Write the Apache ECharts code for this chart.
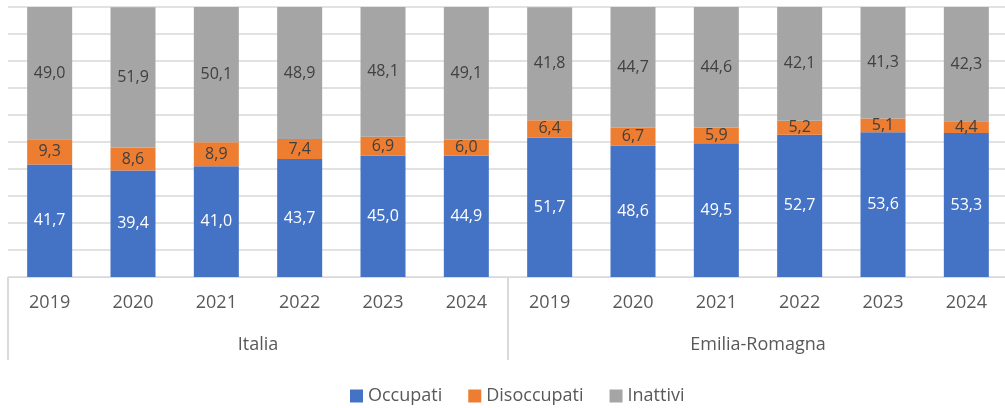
<!DOCTYPE html>
<html>
<head>
<meta charset="utf-8">
<script src="https://cdn.jsdelivr.net/npm/echarts@6/dist/echarts.min.js"></script>
<style>
  html, body { margin: 0; padding: 0; background: #fff; }
  #chart { width: 1005px; height: 408px; }
</style>
</head>
<body>
<div id="chart"></div>
<script>
// Years shown under each bar, and the two regions they belong to
const years = ['2019', '2020', '2021', '2022', '2023', '2024',
               '2019', '2020', '2021', '2022', '2023', '2024'];
const regions = ['Italia', 'Emilia-Romagna'];

// Shares of the population (%) per year, Italia first then Emilia-Romagna
const occupati    = [41.7, 39.4, 41.0, 43.7, 45.0, 44.9, 51.7, 48.6, 49.5, 52.7, 53.6, 53.3];
const disoccupati = [9.3, 8.6, 8.9, 7.4, 6.9, 6.0, 6.4, 6.7, 5.9, 5.2, 5.1, 4.4];
const inattivi    = [49.0, 51.9, 50.1, 48.9, 48.1, 49.1, 41.8, 44.7, 44.6, 42.1, 41.3, 42.3];

const FONT = '"Open Sans", "Noto Sans", sans-serif';
const TEXT = '#595959';
const GRID_LINE = '#D9D9D9';

const fmt = p => p.value.toFixed(1).replace('.', ',');

function barSeries(name, data, color, labelColor) {
  return {
    name: name,
    type: 'bar',
    stack: 'tot',
    xAxisIndex: 0,
    yAxisIndex: 0,
    barWidth: 45,
    data: data,
    itemStyle: { color: color },
    label: {
      show: true,
      position: 'inside',
      formatter: fmt,
      color: labelColor,
      fontFamily: FONT,
      fontSize: 16
    }
  };
}

const chart = echarts.init(document.getElementById('chart'), null, { renderer: 'canvas' });

// plot area runs slightly past the right edge of the canvas
const gridBox = { left: 8, width: 1000, top: 7, height: 270,
                  containLabel: false, outerBoundsMode: 'none' };

chart.setOption({
  animation: false,
  textStyle: { fontFamily: FONT },
  grid: [
    Object.assign({}, gridBox),
    Object.assign({}, gridBox)
  ],
  legend: {
    bottom: -2,
    left: 345,
    itemWidth: 13,
    itemHeight: 13,
    itemGap: 26,
    icon: 'rect',
    textStyle: { color: TEXT, fontSize: 18, fontFamily: FONT },
    data: ['Occupati', 'Disoccupati', 'Inattivi']
  },
  xAxis: [
    {
      type: 'category',
      gridIndex: 0,
      data: years,
      axisLine: { show: true, lineStyle: { color: GRID_LINE, width: 1 } },
      axisTick: { show: false },
      axisLabel: { color: TEXT, fontSize: 18, fontFamily: FONT, margin: 17, interval: 0 }
    },
    {
      type: 'category',
      gridIndex: 1,
      data: regions,
      position: 'bottom',
      axisLine: { show: false },
      // group separators below the year labels
      axisTick: { show: true, length: 83, interval: 0, alignWithLabel: false,
                  lineStyle: { color: GRID_LINE, width: 2 } },
      axisLabel: { color: TEXT, fontSize: 18, fontFamily: FONT, margin: 59, interval: 0 }
    }
  ],
  yAxis: [
    {
      type: 'value',
      gridIndex: 0,
      min: 0,
      max: 100,
      interval: 10,
      axisLine: { show: false },
      axisTick: { show: false },
      axisLabel: { show: false },
      splitLine: { show: true, lineStyle: { color: GRID_LINE, width: 1.5 } }
    },
    {
      type: 'value',
      gridIndex: 1,
      min: 0,
      max: 100,
      show: false,
      splitLine: { show: false }
    }
  ],
  series: [
    barSeries('Occupati', occupati, '#4472C4', '#FFFFFF'),
    barSeries('Disoccupati', disoccupati, '#ED7D31', '#404040'),
    barSeries('Inattivi', inattivi, '#A5A5A5', '#404040')
  ]
});
</script>
</body>
</html>
